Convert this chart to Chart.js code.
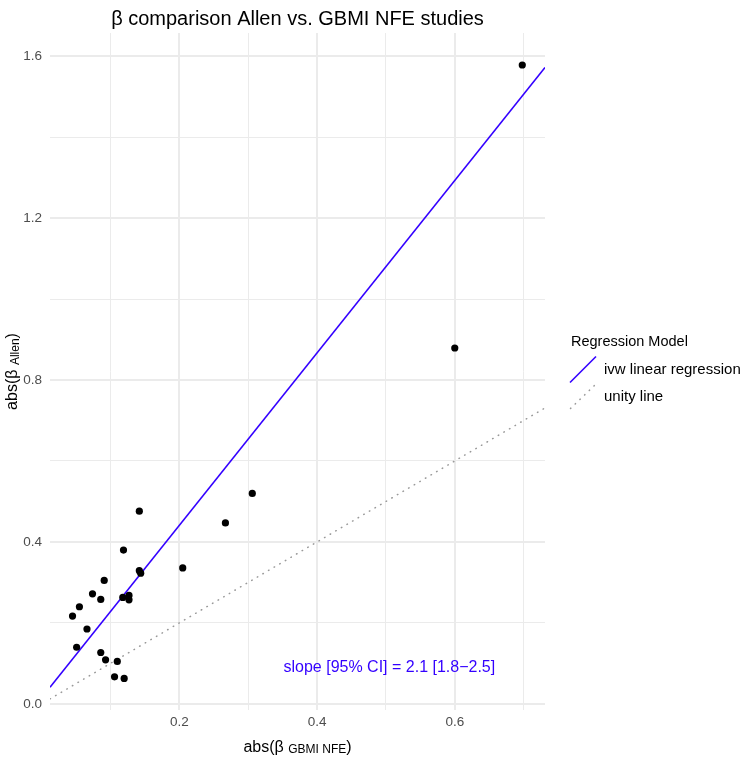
<!DOCTYPE html>
<html>
<head>
<meta charset="utf-8">
<script src="https://cdn.jsdelivr.net/npm/chart.js@4/dist/chart.umd.min.js"></script>
<style>
  html, body { margin: 0; padding: 0; background: #fff; }
  canvas { display: block; }
</style>
</head>
<body>
<canvas id="c" width="743" height="758"></canvas>
<script>
// abs(beta) GBMI NFE (x) vs abs(beta) Allen (y)
const betaGbmi = [0.698, 0.600, 0.306, 0.267, 0.205, 0.142, 0.119, 0.142, 0.144, 0.091, 0.074, 0.086,
  0.118, 0.127, 0.127, 0.055, 0.045, 0.066, 0.051, 0.086, 0.093, 0.110, 0.106, 0.120];
const betaAllen = [1.578, 0.879, 0.520, 0.447, 0.336, 0.476, 0.380, 0.329, 0.323, 0.305, 0.272, 0.258,
  0.263, 0.268, 0.257, 0.240, 0.217, 0.185, 0.140, 0.127, 0.109, 0.105, 0.067, 0.063];

// ivw regression line
const ivwSlope = 2.13;
const ivwIntercept = 0.015;

const xMajor = [0.2, 0.4, 0.6];
const xMinor = [0.1, 0.3, 0.5, 0.7];
const yMajor = [0.0, 0.4, 0.8, 1.2, 1.6];
const yMinor = [0.2, 0.6, 1.0, 1.4];
const xRange = [0.0123, 0.731];
const yRange = [-0.015, 1.657];

const legendLabels = ['ivw linear regression', 'unity line'];
const slopeLabel = 'slope [95% CI] = 2.1 [1.8\u22122.5]';

const BLUE = '#3300ff';
const FONT = '"Liberation Sans", Arial, Helvetica, sans-serif';

const points = betaGbmi.map((x, i) => ({ x: x, y: betaAllen[i] }));
const ivwLine = xRange.map(x => ({ x: x, y: ivwIntercept + ivwSlope * x }));
const unityLine = xRange.map(x => ({ x: x, y: x }));

function isMajor(list, v) {
  return list.some(m => Math.abs(m - v) < 1e-9);
}

function gridOpts(major) {
  return {
    drawTicks: false,
    color: '#ebebeb',
    lineWidth: ctx => (ctx.tick && isMajor(major, ctx.tick.value)) ? 2 : 1
  };
}

// text with a subscript part: [main, sub, main]
function drawSub(ctx, parts, cx, cy) {
  const big = '16px ' + FONT, small = '12px ' + FONT;
  const fonts = [big, small, big];
  let total = 0;
  const widths = parts.map((p, i) => { ctx.font = fonts[i]; const w = ctx.measureText(p).width; total += w; return w; });
  let x = cx - total / 2;
  ctx.textAlign = 'left';
  ctx.textBaseline = 'alphabetic';
  parts.forEach((p, i) => {
    ctx.font = fonts[i];
    ctx.fillText(p, x, cy + (i === 1 ? 1.5 : 0));
    x += widths[i];
  });
}

const decorations = {
  id: 'decorations',
  afterDraw(chart) {
    const ctx = chart.ctx;
    const area = chart.chartArea;
    const xs = chart.scales.x, ys = chart.scales.y;
    const cx = (area.left + area.right) / 2;
    const cy = (area.top + area.bottom) / 2;
    ctx.save();
    ctx.fillStyle = '#000';

    // title
    ctx.font = '20px ' + FONT;
    ctx.textAlign = 'center';
    ctx.textBaseline = 'alphabetic';
    ctx.fillText('\u03b2 comparison Allen vs. GBMI NFE studies', cx, 25);

    // axis titles
    drawSub(ctx, ['abs(\u03b2 ', 'GBMI NFE', ')'], cx, 751.5);
    ctx.save();
    ctx.translate(17, cy);
    ctx.rotate(-Math.PI / 2);
    drawSub(ctx, ['abs(\u03b2 ', 'Allen', ')'], 0, 0);
    ctx.restore();

    // slope annotation
    ctx.fillStyle = BLUE;
    ctx.font = '16px ' + FONT;
    ctx.textAlign = 'center';
    ctx.textBaseline = 'middle';
    ctx.fillText(slopeLabel, xs.getPixelForValue(0.505), ys.getPixelForValue(0.089));

    // legend
    ctx.fillStyle = '#000';
    ctx.textAlign = 'left';
    ctx.font = '14.5px ' + FONT;
    ctx.fillText('Regression Model', 571, 342);
    ctx.font = '15px ' + FONT;
    ctx.fillText(legendLabels[0], 604, 370);
    ctx.fillText(legendLabels[1], 604, 397);

    ctx.lineCap = 'butt';
    ctx.strokeStyle = BLUE;
    ctx.lineWidth = 1.6;
    ctx.beginPath();
    ctx.moveTo(570, 382.5);
    ctx.lineTo(596, 356.5);
    ctx.stroke();

    ctx.strokeStyle = '#999999';
    ctx.lineWidth = 1.5;
    ctx.lineCap = 'round';
    ctx.setLineDash([0.5, 6]);
    ctx.beginPath();
    ctx.moveTo(570.5, 408.5);
    ctx.lineTo(595.5, 384.5);
    ctx.stroke();
    ctx.restore();
  }
};

new Chart(document.getElementById('c'), {
  type: 'scatter',
  data: {
    datasets: [
      {
        label: 'studies',
        data: points,
        pointRadius: 3.6,
        pointBackgroundColor: '#000',
        pointBorderWidth: 0
      },
      {
        label: legendLabels[0],
        data: ivwLine,
        showLine: true,
        pointRadius: 0,
        borderColor: BLUE,
        borderWidth: 1.6
      },
      {
        label: legendLabels[1],
        data: unityLine,
        showLine: true,
        pointRadius: 0,
        borderColor: '#999999',
        borderWidth: 1.5,
        borderDash: [0.5, 6],
        borderCapStyle: 'round'
      }
    ]
  },
  options: {
    responsive: false,
    animation: false,
    layout: { padding: { top: 33, right: 198, left: 0, bottom: 0 } },
    plugins: {
      legend: { display: false },
      tooltip: { enabled: false },
      title: { display: false }
    },
    scales: {
      x: {
        type: 'linear',
        min: xRange[0],
        max: xRange[1],
        afterBuildTicks: s => { s.ticks = xMinor.concat(xMajor).sort((a, b) => a - b).map(v => ({ value: v })); },
        afterFit: s => { s.height = 48; },
        grid: gridOpts(xMajor),
        border: { display: false },
        ticks: {
          autoSkip: false,
          maxRotation: 0,
          padding: 4,
          color: '#4d4d4d',
          font: { family: FONT, size: 13.5 },
          callback: v => isMajor(xMajor, v) ? v.toFixed(1) : ''
        }
      },
      y: {
        type: 'linear',
        min: yRange[0],
        max: yRange[1],
        afterBuildTicks: s => { s.ticks = yMinor.concat(yMajor).sort((a, b) => a - b).map(v => ({ value: v })); },
        afterFit: s => { s.width = 50; },
        grid: gridOpts(yMajor),
        border: { display: false },
        ticks: {
          autoSkip: false,
          padding: 8,
          color: '#4d4d4d',
          font: { family: FONT, size: 13.5 },
          callback: v => isMajor(yMajor, v) ? v.toFixed(1) : ''
        }
      }
    }
  },
  plugins: [decorations]
});
</script>
</body>
</html>
